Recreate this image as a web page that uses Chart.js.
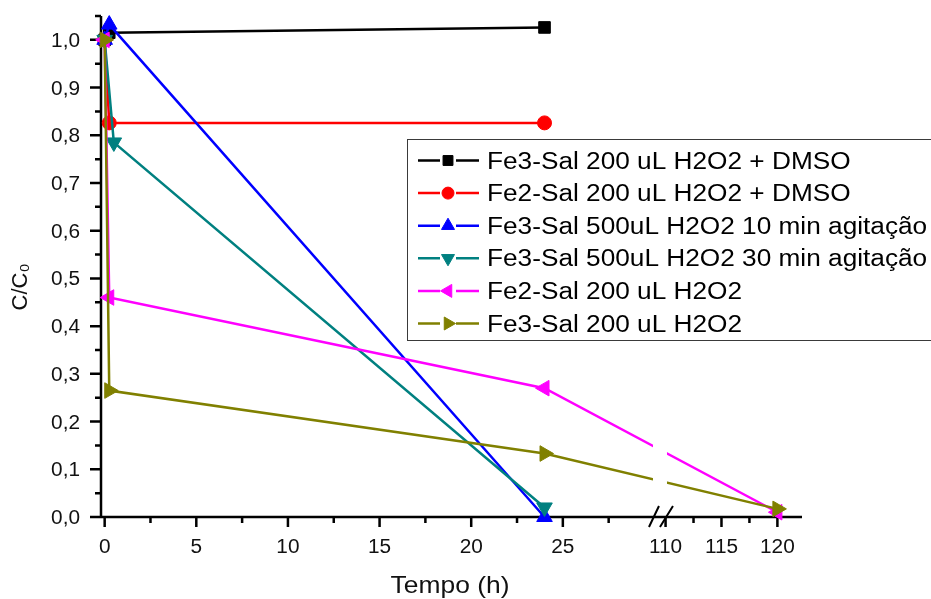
<!DOCTYPE html>
<html>
<head>
<meta charset="utf-8">
<title>C/C0 vs Tempo</title>
<script src="https://cdn.jsdelivr.net/npm/chart.js@4/dist/chart.umd.min.js"></script>
<style>
    html, body { margin: 0; padding: 0; background: #fff; }
    #wrap { width: 931px; height: 599px; position: relative; }
</style>
</head>
<body>
<div id="wrap"><canvas id="chart"></canvas></div>
<script>
// Series labels
const seriesLabels = [
    'Fe3-Sal 200 uL H2O2 + DMSO',
    'Fe2-Sal 200 uL H2O2 + DMSO',
    'Fe3-Sal 500uL H2O2 10 min agitação',
    'Fe3-Sal 500uL H2O2 30 min agitação',
    'Fe2-Sal 200 uL H2O2',
    'Fe3-Sal 200 uL H2O2'
];

// Time (h) and C/C0 for each series
const timeFe3Dmso = [0, 0.25, 24];
const valFe3Dmso = [1.0, 1.015, 1.026];
const timeFe2Dmso = [0, 0.25, 24];
const valFe2Dmso = [1.0, 0.826, 0.826];
const timeFe3Agit10 = [0, 0.25, 24];
const valFe3Agit10 = [1.0, 1.032, 0.0];
const timeFe3Agit30 = [0, 0.5, 24];
const valFe3Agit30 = [1.0, 0.785, 0.02];
const timeFe2 = [0, 0.25, 24, 120];
const valFe2 = [1.0, 0.46, 0.27, 0.01];
const timeFe3 = [0, 0.25, 24, 120];
const valFe3 = [1.0, 0.265, 0.133, 0.017];

// Tick values
const xTicks = [0, 5, 10, 15, 20, 25, 110, 115, 120];
const xMinorTicks = [2.5, 7.5, 12.5, 17.5, 22.5, 27.5, 112.5, 117.5];
const yTicks = [0, 0.1, 0.2, 0.3, 0.4, 0.5, 0.6, 0.7, 0.8, 0.9, 1.0];
const yMinorTicks = [0.05, 0.15, 0.25, 0.35, 0.45, 0.55, 0.65, 0.75, 0.85, 0.95, 1.05];

// Broken x axis: two linear segments sharing the axis width
const xBreak = { lowMin: -0.2, lowMax: 30.3, highMin: 109.5, highMax: 122.2, lowShare: 0.7974 };

const FONT = "'Liberation Sans', Arial, 'DejaVu Sans', sans-serif";

class BrokenScale extends Chart.LinearScale {
    getPixelForValue(value) {
        const b = xBreak;
        let f;
        if (value <= b.lowMax) {
            f = (value - b.lowMin) / (b.lowMax - b.lowMin) * b.lowShare;
        } else if (value >= b.highMin) {
            f = b.lowShare + (value - b.highMin) / (b.highMax - b.highMin) * (1 - b.lowShare);
        } else {
            f = b.lowShare;
        }
        return this.left + f * this.width;
    }
}
BrokenScale.id = 'broken';
BrokenScale.defaults = Chart.LinearScale.defaults;
Chart.register(BrokenScale);

const styles = [
    { color: '#000000', pointStyle: 'rect', rotation: 0, radius: 8.2, legendRadius: 7 },
    { color: '#FF0000', pointStyle: 'circle', rotation: 0, radius: 7, legendRadius: 6 },
    { color: '#0000FF', pointStyle: 'triangle', rotation: 0, radius: 9, legendRadius: 7.5 },
    { color: '#008080', pointStyle: 'triangle', rotation: 180, radius: 9, legendRadius: 7.5 },
    { color: '#FF00FF', pointStyle: 'triangle', rotation: 270, radius: 9, legendRadius: 7.5 },
    { color: '#808000', pointStyle: 'triangle', rotation: 90, radius: 9, legendRadius: 7.5 }
];

function toPoints(times, vals) {
    return times.map((t, i) => ({ x: t, y: vals[i] }));
}

const seriesData = [
    toPoints(timeFe3Dmso, valFe3Dmso),
    toPoints(timeFe2Dmso, valFe2Dmso),
    toPoints(timeFe3Agit10, valFe3Agit10),
    toPoints(timeFe3Agit30, valFe3Agit30),
    toPoints(timeFe2, valFe2),
    toPoints(timeFe3, valFe3)
];

const datasets = seriesData.map((data, i) => ({
    label: seriesLabels[i],
    data: data,
    borderColor: styles[i].color,
    backgroundColor: styles[i].color,
    pointBackgroundColor: styles[i].color,
    pointBorderColor: styles[i].color,
    pointBorderWidth: 1,
    pointStyle: styles[i].pointStyle,
    rotation: styles[i].rotation,
    pointRadius: styles[i].radius,
    borderWidth: 2.5,
    tension: 0,
    fill: false,
    clip: false,
    order: seriesData.length - i
}));

// text with a slight horizontal stretch, like the original export
function stretchText(ctx, str, x, y, align, sx) {
    ctx.save();
    ctx.translate(x, y);
    ctx.scale(sx, 1);
    ctx.textAlign = align;
    ctx.textBaseline = 'alphabetic';
    ctx.fillText(str, 0, 0);
    ctx.restore();
}

function marker(ctx, st, radius, x, y) {
    ctx.fillStyle = st.color;
    ctx.strokeStyle = st.color;
    ctx.lineWidth = 1;
    Chart.helpers.drawPoint(ctx, {
        pointStyle: st.pointStyle,
        rotation: st.rotation,
        radius: radius,
        borderWidth: 1
    }, x, y);
}

const originStyle = {
    id: 'originStyle',
    beforeDatasetsDraw(chart) {
        const ctx = chart.ctx;
        const xs = chart.scales.x, ys = chart.scales.y;
        const area = chart.chartArea;
        ctx.save();
        ctx.strokeStyle = '#000';
        ctx.lineWidth = 2.5;
        ctx.beginPath();
        ctx.moveTo(area.left - 1, area.bottom);
        ctx.lineTo(area.right, area.bottom);
        ctx.moveTo(area.left, area.bottom);
        ctx.lineTo(area.left, area.top);
        // x ticks
        xTicks.forEach(v => {
            const px = xs.getPixelForValue(v);
            ctx.moveTo(px, area.bottom);
            ctx.lineTo(px, area.bottom + 10);
        });
        xMinorTicks.forEach(v => {
            const px = xs.getPixelForValue(v);
            ctx.moveTo(px, area.bottom);
            ctx.lineTo(px, area.bottom + 6);
        });
        // y ticks
        yTicks.forEach(v => {
            const py = ys.getPixelForValue(v);
            ctx.moveTo(area.left, py);
            ctx.lineTo(area.left - 11, py);
        });
        yMinorTicks.forEach(v => {
            const py = ys.getPixelForValue(v);
            ctx.moveTo(area.left, py);
            ctx.lineTo(area.left - 6, py);
        });
        ctx.stroke();

        ctx.fillStyle = '#111';
        ctx.font = '20px ' + FONT;
        xTicks.forEach(v => {
            stretchText(ctx, String(v), xs.getPixelForValue(v), area.bottom + 36, 'center', 1.04);
        });
        yTicks.forEach(v => {
            const lbl = v.toFixed(1).replace('.', ',');
            stretchText(ctx, lbl, area.left - 21, ys.getPixelForValue(v) + 7, 'right', 1.04);
        });
        ctx.restore();
    },
    afterDatasetsDraw(chart) {
        const ctx = chart.ctx;
        const area = chart.chartArea;
        const bp = chart.scales.x.getPixelForValue(xBreak.lowMax);
        ctx.save();
        // gap where the axis is broken
        ctx.fillStyle = '#fff';
        ctx.fillRect(bp - 7, area.top, 14, area.bottom - area.top - 2);
        ctx.strokeStyle = '#000';
        ctx.lineWidth = 2;
        ctx.beginPath();
        ctx.moveTo(bp - 11, area.bottom + 10);
        ctx.lineTo(bp - 1, area.bottom - 11);
        ctx.moveTo(bp, area.bottom + 10);
        ctx.lineTo(bp + 13, area.bottom - 11);
        ctx.stroke();
        ctx.restore();
    },
    afterDraw(chart) {
        const ctx = chart.ctx;
        ctx.save();

        // legend box
        ctx.strokeStyle = '#3a3a3a';
        ctx.lineWidth = 1;
        ctx.strokeRect(407.5, 139.5, 560, 201);

        ctx.font = '23px ' + FONT;
        ctx.fillStyle = '#000';
        seriesLabels.forEach((lbl, i) => {
            const st = styles[i];
            const cy = 160.5 + i * 32.6;
            ctx.strokeStyle = st.color;
            ctx.lineWidth = 2.5;
            ctx.beginPath();
            ctx.moveTo(418, cy);
            ctx.lineTo(440, cy);
            ctx.moveTo(456, cy);
            ctx.lineTo(479, cy);
            ctx.stroke();
            marker(ctx, st, st.legendRadius, 448, cy);
            ctx.fillStyle = '#000';
            stretchText(ctx, lbl, 487, cy + 8, 'left', 1.14);
        });

        // axis titles
        ctx.fillStyle = '#111';
        ctx.font = '24px ' + FONT;
        stretchText(ctx, 'Tempo (h)', 450, 593, 'center', 1.1);

        ctx.font = '22px ' + FONT;
        ctx.translate(27, 287);
        ctx.rotate(-Math.PI / 2);
        ctx.textAlign = 'center';
        ctx.textBaseline = 'alphabetic';
        ctx.fillText('C/C₀', 0, 0);
        ctx.restore();
    }
};

new Chart(document.getElementById('chart'), {
    type: 'line',
    data: { datasets: datasets },
    options: {
        responsive: true,
        maintainAspectRatio: false,
        animation: false,
        events: [],
        layout: { padding: { left: 101, right: 129, top: 16, bottom: 82 } },
        plugins: {
            legend: { display: false },
            tooltip: { enabled: false }
        },
        scales: {
            x: { type: 'broken', min: xBreak.lowMin, max: xBreak.highMax, display: false },
            y: { type: 'linear', min: 0, max: 1.05, display: false }
        }
    },
    plugins: [originStyle]
});
</script>
</body>
</html>
